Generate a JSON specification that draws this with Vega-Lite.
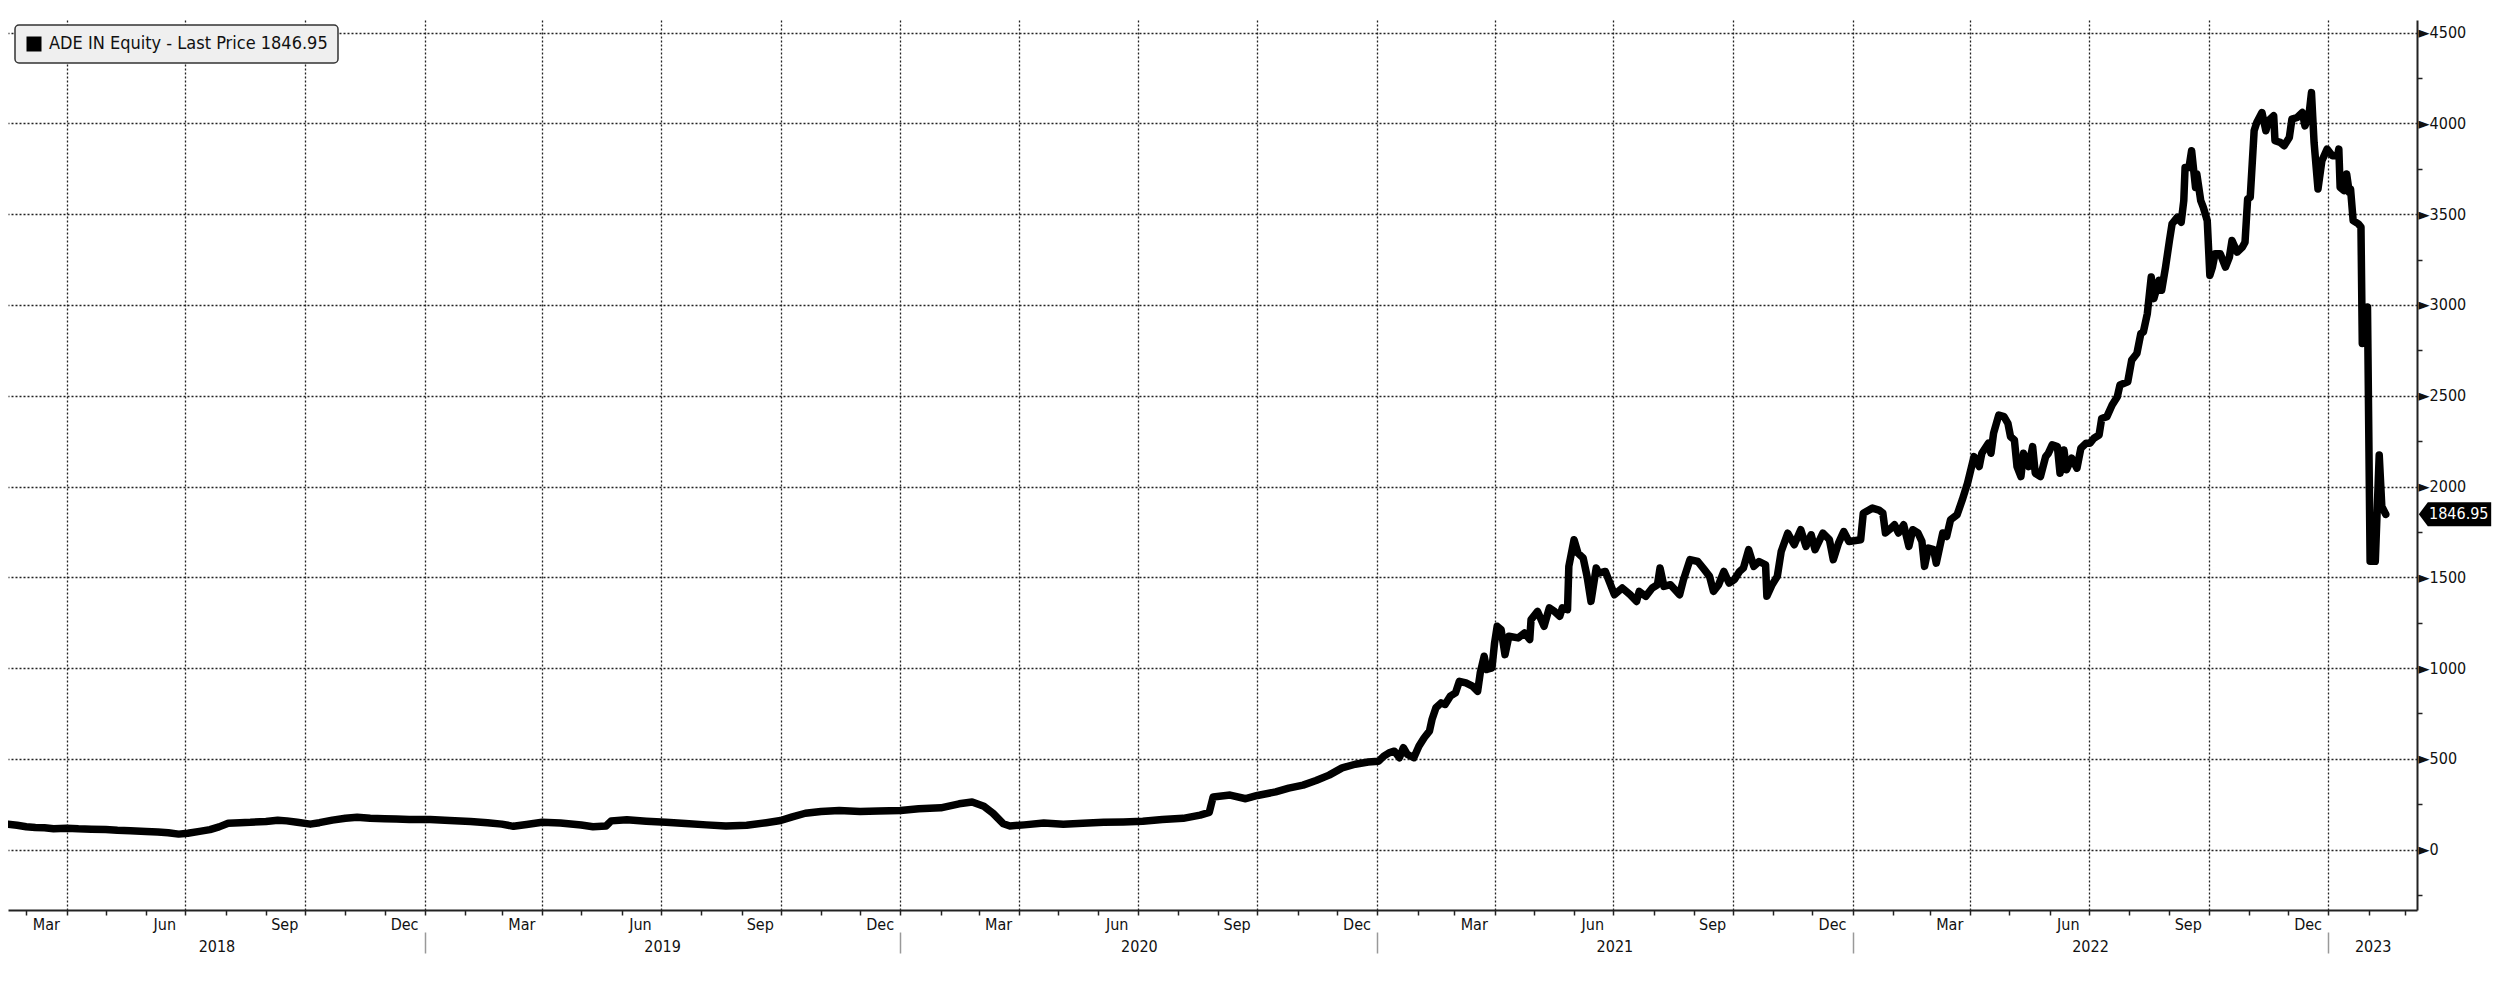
{
  "$schema": "https://vega.github.io/schema/vega-lite/v6.json",
  "width": 2409,
  "height": 890,
  "autosize": {"type": "none"},
  "padding": {"left": 8, "top": 20, "right": 83, "bottom": 72},
  "background": "white",
  "config": {"view": {"stroke": null}, "font": "DejaVu Sans Condensed"},
  "datasets": {
    "price": [
      {"d":"2018-02-15","p":140},{"d":"2018-02-22","p":134},{"d":"2018-03-01","p":126},{"d":"2018-03-08","p":122},{"d":"2018-03-15","p":120},{"d":"2018-03-22","p":115},{"d":"2018-04-01","p":118},{"d":"2018-04-10","p":114},{"d":"2018-04-20","p":112},{"d":"2018-05-01","p":110},{"d":"2018-05-10","p":106},{"d":"2018-05-20","p":104},{"d":"2018-06-01","p":100},{"d":"2018-06-10","p":97},{"d":"2018-06-18","p":93},{"d":"2018-06-26","p":85},{"d":"2018-07-03","p":90},{"d":"2018-07-12","p":100},{"d":"2018-07-20","p":110},{"d":"2018-07-27","p":125},{"d":"2018-08-03","p":145},{"d":"2018-08-12","p":148},{"d":"2018-08-20","p":150},{"d":"2018-09-01","p":155},{"d":"2018-09-10","p":162},{"d":"2018-09-17","p":158},{"d":"2018-09-25","p":150},{"d":"2018-10-05","p":140},{"d":"2018-10-12","p":148},{"d":"2018-10-22","p":162},{"d":"2018-11-01","p":172},{"d":"2018-11-10","p":178},{"d":"2018-11-20","p":172},{"d":"2018-12-01","p":170},{"d":"2018-12-10","p":168},{"d":"2018-12-20","p":166},
      {"d":"2019-01-05","p":165},{"d":"2019-01-20","p":160},{"d":"2019-02-05","p":155},{"d":"2019-02-18","p":148},{"d":"2019-03-01","p":140},{"d":"2019-03-10","p":128},{"d":"2019-03-20","p":138},{"d":"2019-04-01","p":150},{"d":"2019-04-15","p":146},{"d":"2019-05-01","p":135},{"d":"2019-05-10","p":126},{"d":"2019-05-20","p":130},{"d":"2019-05-24","p":158},{"d":"2019-06-05","p":164},{"d":"2019-06-20","p":156},{"d":"2019-07-05","p":150},{"d":"2019-07-20","p":144},{"d":"2019-08-05","p":136},{"d":"2019-08-20","p":130},{"d":"2019-09-05","p":134},{"d":"2019-09-20","p":148},{"d":"2019-10-01","p":160},{"d":"2019-10-10","p":180},{"d":"2019-10-20","p":200},{"d":"2019-11-01","p":210},{"d":"2019-11-15","p":215},{"d":"2019-12-01","p":210},{"d":"2019-12-15","p":212},
      {"d":"2020-01-01","p":215},{"d":"2020-01-15","p":225},{"d":"2020-02-01","p":230},{"d":"2020-02-15","p":252},{"d":"2020-02-25","p":262},{"d":"2020-03-05","p":238},{"d":"2020-03-12","p":200},{"d":"2020-03-20","p":142},{"d":"2020-03-25","p":130},{"d":"2020-04-05","p":136},{"d":"2020-04-20","p":146},{"d":"2020-05-05","p":140},{"d":"2020-05-20","p":145},{"d":"2020-06-05","p":150},{"d":"2020-06-20","p":152},{"d":"2020-07-05","p":156},{"d":"2020-07-20","p":165},{"d":"2020-08-05","p":172},{"d":"2020-08-18","p":190},{"d":"2020-08-25","p":205},{"d":"2020-08-28","p":290},{"d":"2020-09-10","p":300},{"d":"2020-09-22","p":280},{"d":"2020-10-01","p":298},{"d":"2020-10-15","p":318},{"d":"2020-10-25","p":338},{"d":"2020-11-05","p":355},{"d":"2020-11-15","p":380},{"d":"2020-11-25","p":410},{"d":"2020-12-05","p":450},{"d":"2020-12-15","p":470},{"d":"2020-12-25","p":482},
      {"d":"2021-01-02","p":487},{"d":"2021-01-06","p":515},{"d":"2021-01-10","p":533},{"d":"2021-01-14","p":542},{"d":"2021-01-18","p":506},{"d":"2021-01-21","p":561},{"d":"2021-01-24","p":524},{"d":"2021-01-29","p":506},{"d":"2021-02-02","p":570},{"d":"2021-02-06","p":616},{"d":"2021-02-10","p":652},{"d":"2021-02-12","p":717},{"d":"2021-02-15","p":781},{"d":"2021-02-19","p":808},{"d":"2021-02-22","p":799},{"d":"2021-02-26","p":845},{"d":"2021-03-02","p":863},{"d":"2021-03-05","p":927},{"d":"2021-03-10","p":918},{"d":"2021-03-15","p":900},{"d":"2021-03-19","p":872},{"d":"2021-03-21","p":973},{"d":"2021-03-24","p":1065},{"d":"2021-03-26","p":992},{"d":"2021-03-30","p":1001},{"d":"2021-04-01","p":1138},{"d":"2021-04-03","p":1230},{"d":"2021-04-06","p":1212},{"d":"2021-04-09","p":1074},{"d":"2021-04-12","p":1175},{"d":"2021-04-19","p":1166},{"d":"2021-04-24","p":1193},{"d":"2021-04-28","p":1157},{"d":"2021-04-29","p":1267},{"d":"2021-05-04","p":1312},{"d":"2021-05-09","p":1230},{"d":"2021-05-13","p":1331},{"d":"2021-05-17","p":1312},{"d":"2021-05-21","p":1285},{"d":"2021-05-23","p":1331},{"d":"2021-05-27","p":1322},{"d":"2021-05-28","p":1560},{"d":"2021-06-01","p":1707},{"d":"2021-06-04","p":1633},{"d":"2021-06-08","p":1606},{"d":"2021-06-11","p":1505},{"d":"2021-06-14","p":1367},{"d":"2021-06-18","p":1551},{"d":"2021-06-20","p":1523},{"d":"2021-06-25","p":1532},{"d":"2021-07-02","p":1404},{"d":"2021-07-08","p":1441},{"d":"2021-07-14","p":1404},{"d":"2021-07-19","p":1367},{"d":"2021-07-21","p":1422},{"d":"2021-07-26","p":1395},{"d":"2021-07-31","p":1441},{"d":"2021-08-04","p":1459},{"d":"2021-08-06","p":1551},{"d":"2021-08-09","p":1450},{"d":"2021-08-14","p":1459},{"d":"2021-08-21","p":1404},{"d":"2021-08-24","p":1487},{"d":"2021-08-29","p":1597},{"d":"2021-09-04","p":1587},{"d":"2021-09-09","p":1542},{"d":"2021-09-13","p":1505},{"d":"2021-09-16","p":1422},{"d":"2021-09-20","p":1459},{"d":"2021-09-24","p":1532},{"d":"2021-09-28","p":1468},{"d":"2021-10-02","p":1487},{"d":"2021-10-06","p":1532},{"d":"2021-10-09","p":1551},{"d":"2021-10-13","p":1652},{"d":"2021-10-17","p":1560},{"d":"2021-10-21","p":1587},{"d":"2021-10-26","p":1569},{"d":"2021-10-27","p":1395},{"d":"2021-10-31","p":1459},{"d":"2021-11-04","p":1505},{"d":"2021-11-07","p":1642},{"d":"2021-11-12","p":1743},{"d":"2021-11-17","p":1679},{"d":"2021-11-22","p":1762},{"d":"2021-11-26","p":1670},{"d":"2021-11-30","p":1734},{"d":"2021-12-03","p":1652},{"d":"2021-12-09","p":1743},{"d":"2021-12-14","p":1707},{"d":"2021-12-17","p":1597},{"d":"2021-12-21","p":1688},{"d":"2021-12-25","p":1752},{"d":"2021-12-29","p":1697},
      {"d":"2022-01-07","p":1707},{"d":"2022-01-09","p":1853},{"d":"2022-01-16","p":1881},{"d":"2022-01-21","p":1870},{"d":"2022-01-24","p":1854},{"d":"2022-01-26","p":1744},{"d":"2022-01-29","p":1762},{"d":"2022-02-02","p":1789},{"d":"2022-02-05","p":1744},{"d":"2022-02-09","p":1789},{"d":"2022-02-13","p":1670},{"d":"2022-02-16","p":1762},{"d":"2022-02-20","p":1744},{"d":"2022-02-23","p":1698},{"d":"2022-02-25","p":1560},{"d":"2022-02-28","p":1661},{"d":"2022-03-04","p":1652},{"d":"2022-03-06","p":1578},{"d":"2022-03-11","p":1744},{"d":"2022-03-14","p":1725},{"d":"2022-03-17","p":1817},{"d":"2022-03-22","p":1844},{"d":"2022-03-26","p":1927},{"d":"2022-03-30","p":2018},{"d":"2022-04-04","p":2165},{"d":"2022-04-08","p":2110},{"d":"2022-04-10","p":2183},{"d":"2022-04-15","p":2238},{"d":"2022-04-17","p":2183},{"d":"2022-04-19","p":2293},{"d":"2022-04-23","p":2394},{"d":"2022-04-27","p":2385},{"d":"2022-04-30","p":2348},{"d":"2022-05-02","p":2275},{"d":"2022-05-05","p":2256},{"d":"2022-05-07","p":2110},{"d":"2022-05-10","p":2055},{"d":"2022-05-12","p":2183},{"d":"2022-05-16","p":2110},{"d":"2022-05-19","p":2220},{"d":"2022-05-21","p":2073},{"d":"2022-05-25","p":2055},{"d":"2022-05-29","p":2165},{"d":"2022-05-31","p":2183},{"d":"2022-06-03","p":2229},{"d":"2022-06-07","p":2220},{"d":"2022-06-09","p":2073},{"d":"2022-06-12","p":2201},{"d":"2022-06-14","p":2092},{"d":"2022-06-18","p":2156},{"d":"2022-06-22","p":2101},{"d":"2022-06-25","p":2211},{"d":"2022-06-29","p":2238},{"d":"2022-07-02","p":2238},{"d":"2022-07-05","p":2266},{"d":"2022-07-09","p":2284},{"d":"2022-07-11","p":2375},{"d":"2022-07-15","p":2385},{"d":"2022-07-19","p":2449},{"d":"2022-07-23","p":2495},{"d":"2022-07-25","p":2559},{"d":"2022-07-31","p":2577},{"d":"2022-08-03","p":2696},{"d":"2022-08-07","p":2733},{"d":"2022-08-10","p":2842},{"d":"2022-08-12","p":2852},{"d":"2022-08-15","p":2952},{"d":"2022-08-18","p":3154},{"d":"2022-08-20","p":3035},{"d":"2022-08-24","p":3136},{"d":"2022-08-26","p":3081},{"d":"2022-08-29","p":3209},{"d":"2022-09-01","p":3355},{"d":"2022-09-03","p":3447},{"d":"2022-09-07","p":3483},{"d":"2022-09-10","p":3456},{"d":"2022-09-12","p":3575},{"d":"2022-09-13","p":3758},{"d":"2022-09-16","p":3758},{"d":"2022-09-18","p":3850},{"d":"2022-09-21","p":3648},{"d":"2022-09-22","p":3722},{"d":"2022-09-25","p":3575},{"d":"2022-09-27","p":3538},{"d":"2022-09-30","p":3465},{"d":"2022-10-02","p":3163},{"d":"2022-10-04","p":3209},{"d":"2022-10-06","p":3282},{"d":"2022-10-10","p":3282},{"d":"2022-10-14","p":3209},{"d":"2022-10-17","p":3264},{"d":"2022-10-19","p":3355},{"d":"2022-10-23","p":3291},{"d":"2022-10-27","p":3319},{"d":"2022-10-29","p":3346},{"d":"2022-10-31","p":3584},{"d":"2022-11-02","p":3593},{"d":"2022-11-05","p":3960},{"d":"2022-11-07","p":4005},{"d":"2022-11-11","p":4060},{"d":"2022-11-14","p":3960},{"d":"2022-11-16","p":4015},{"d":"2022-11-20","p":4042},{"d":"2022-11-21","p":3905},{"d":"2022-11-25","p":3896},{"d":"2022-11-28","p":3877},{"d":"2022-12-02","p":3923},{"d":"2022-12-04","p":4024},{"d":"2022-12-08","p":4033},{"d":"2022-12-12","p":4060},{"d":"2022-12-14","p":3987},{"d":"2022-12-17","p":4042},{"d":"2022-12-19","p":4170},{"d":"2022-12-21","p":3896},{"d":"2022-12-24","p":3639},{"d":"2022-12-27","p":3795},{"d":"2022-12-31","p":3859},
      {"d":"2023-01-04","p":3822},{"d":"2023-01-08","p":3822},{"d":"2023-01-09","p":3859},{"d":"2023-01-10","p":3648},{"d":"2023-01-13","p":3630},{"d":"2023-01-15","p":3722},{"d":"2023-01-17","p":3621},{"d":"2023-01-18","p":3639},{"d":"2023-01-20","p":3465},{"d":"2023-01-24","p":3447},{"d":"2023-01-26","p":3429},{"d":"2023-01-27","p":2788},{"d":"2023-01-31","p":2989},{"d":"2023-02-02","p":1588},{"d":"2023-02-06","p":1588},{"d":"2023-02-09","p":2174},{"d":"2023-02-11","p":1890},{"d":"2023-02-14","p":1846.95}
    ],
    "last": [{"last": 1846.95}]
  },
  "resolve": {"axis": {"x": "independent", "y": "independent"}},
  "layer": [
    {
      "data": {"name": "price"},
      "mark": {"type": "line", "color": "black", "strokeWidth": 7.5, "strokeJoin": "round", "strokeCap": "round", "clip": true},
      "encoding": {
        "x": {
          "field": "d", "type": "temporal",
          "scale": {"type": "utc", "domain": [{"year": 2018, "month": 2, "date": 15, "utc": true}, {"year": 2023, "month": 3, "date": 10, "utc": true}]},
          "axis": {"orient": "bottom", "title": null, "labels": false, "tickCount": {"interval": "month", "step": 1}, "ticks": true, "tickSize": 5, "tickWidth": 1.5, "tickColor": "#222", "domain": true, "domainColor": "#222", "domainWidth": 2, "grid": true, "gridColor": "#222", "gridDash": [2, 2], "gridWidth": 1.3, "gridOpacity": {"condition": {"test": "utcmonth(datum.value) % 3 == 0", "value": 1}, "value": 0}}
        },
        "y": {
          "field": "p", "type": "quantitative",
          "scale": {"domain": [-333, 4570], "nice": false, "zero": false},
          "axis": {"orient": "right", "title": null, "values": [0, 500, 1000, 1500, 2000, 2500, 3000, 3500, 4000, 4500], "format": "d", "labelExpr": "'►' + datum.label", "ticks": false, "tickSize": 0, "labelPadding": 1, "labelFont": "DejaVu Sans Condensed", "labelFontSize": 16, "labelColor": "#111", "labelBaseline": "middle", "domain": true, "domainColor": "#222", "domainWidth": 2, "grid": true, "gridColor": "#222", "gridDash": [2, 2], "gridWidth": 1.3}
        },
        "color": {
          "datum": "ADE IN Equity - Last Price 1846.95", "type": "nominal",
          "scale": {"range": ["black"]},
          "legend": {"title": null, "orient": "none", "legendX": 7, "legendY": 5, "symbolType": "square", "symbolSize": 225, "symbolFillColor": "black", "symbolStrokeColor": "black", "labelFont": "DejaVu Sans Condensed", "labelFontSize": 18, "labelColor": "#111", "labelOffset": 6, "labelLimit": 1000, "fillColor": "#efefef", "strokeColor": "#333", "cornerRadius": 4, "padding": 10,
            "encode": {"symbols": {"update": {"fill": {"value": "black"}, "stroke": {"value": "black"}, "strokeWidth": {"value": 0}, "shape": {"value": "square"}, "opacity": {"value": 1}}}, "legend": {"update": {"strokeWidth": {"value": 1.5}}}}}
        }
      }
    },
    {
      "data": {"name": "price"},
      "mark": {"type": "line", "opacity": 0},
      "encoding": {
        "x": {
          "field": "d", "type": "temporal",
          "axis": {"orient": "bottom", "title": null,
            "values": [
              {"year": 2018, "month": 3, "date": 16, "utc": true}, {"year": 2018, "month": 6, "date": 15, "utc": true}, {"year": 2018, "month": 9, "date": 15, "utc": true}, {"year": 2018, "month": 12, "date": 16, "utc": true},
              {"year": 2019, "month": 3, "date": 16, "utc": true}, {"year": 2019, "month": 6, "date": 15, "utc": true}, {"year": 2019, "month": 9, "date": 15, "utc": true}, {"year": 2019, "month": 12, "date": 16, "utc": true},
              {"year": 2020, "month": 3, "date": 16, "utc": true}, {"year": 2020, "month": 6, "date": 15, "utc": true}, {"year": 2020, "month": 9, "date": 15, "utc": true}, {"year": 2020, "month": 12, "date": 16, "utc": true},
              {"year": 2021, "month": 3, "date": 16, "utc": true}, {"year": 2021, "month": 6, "date": 15, "utc": true}, {"year": 2021, "month": 9, "date": 15, "utc": true}, {"year": 2021, "month": 12, "date": 16, "utc": true},
              {"year": 2022, "month": 3, "date": 16, "utc": true}, {"year": 2022, "month": 6, "date": 15, "utc": true}, {"year": 2022, "month": 9, "date": 15, "utc": true}, {"year": 2022, "month": 12, "date": 16, "utc": true}
            ],
            "labelExpr": "utcFormat(datum.value, '%b')", "ticks": false, "tickSize": 0, "domain": false, "grid": false, "labelPadding": 19, "labelBaseline": "alphabetic", "labelFont": "DejaVu Sans Condensed", "labelFontSize": 16, "labelColor": "#111", "labelOverlap": false, "labelFlush": false, "labelBound": false}
        },
        "y": {
          "field": "p", "type": "quantitative",
          "axis": {"orient": "right", "title": null, "values": [-250, 250, 750, 1250, 1750, 2250, 2750, 3250, 3750, 4250], "labels": false, "ticks": true, "tickSize": 5, "tickWidth": 1.5, "tickColor": "#222", "domain": false, "grid": false}
        }
      }
    },
    {
      "data": {"name": "price"},
      "mark": {"type": "line", "opacity": 0},
      "encoding": {
        "x": {
          "field": "d", "type": "temporal",
          "axis": {"orient": "bottom", "title": null,
            "values": [
              {"year": 2018, "month": 7, "date": 25, "utc": true}, {"year": 2019, "month": 7, "date": 2, "utc": true}, {"year": 2020, "month": 7, "date": 2, "utc": true}, {"year": 2021, "month": 7, "date": 2, "utc": true}, {"year": 2022, "month": 7, "date": 2, "utc": true}, {"year": 2023, "month": 2, "date": 4, "utc": true}
            ],
            "labelExpr": "utcFormat(datum.value, '%Y')", "ticks": false, "tickSize": 0, "domain": false, "grid": false, "labelPadding": 41, "labelBaseline": "alphabetic", "labelFont": "DejaVu Sans Condensed", "labelFontSize": 16, "labelColor": "#111", "labelOverlap": false, "labelFlush": false, "labelBound": false}
        },
        "y": {"field": "p", "type": "quantitative", "axis": null}
      }
    },
    {
      "data": {"name": "price"},
      "mark": {"type": "line", "opacity": 0},
      "encoding": {
        "x": {
          "field": "d", "type": "temporal",
          "axis": {"orient": "bottom", "title": null, "offset": 22,
            "values": [
              {"year": 2019, "month": 1, "date": 1, "utc": true}, {"year": 2020, "month": 1, "date": 1, "utc": true}, {"year": 2021, "month": 1, "date": 1, "utc": true}, {"year": 2022, "month": 1, "date": 1, "utc": true}, {"year": 2023, "month": 1, "date": 1, "utc": true}
            ],
            "labels": false, "ticks": true, "tickSize": 21, "tickWidth": 1.5, "tickColor": "#999", "domain": false, "grid": false}
        },
        "y": {"field": "p", "type": "quantitative", "axis": null}
      }
    },
    {
      "data": {"name": "last"},
      "mark": {"type": "point", "shape": "M 0.05 0 L 0.3 -0.333 L 2.06 -0.333 L 2.06 0.333 L 0.3 0.333 Z", "filled": true, "fill": "black", "size": 5184, "opacity": 1, "strokeWidth": 0},
      "encoding": {
        "x": {"value": "width"},
        "y": {"field": "last", "type": "quantitative", "axis": null}
      }
    },
    {
      "data": {"name": "last"},
      "mark": {"type": "text", "align": "left", "baseline": "middle", "dx": 12, "color": "white", "font": "DejaVu Sans Condensed", "fontSize": 16},
      "encoding": {
        "x": {"value": "width"},
        "y": {"field": "last", "type": "quantitative", "axis": null},
        "text": {"field": "last", "type": "quantitative", "format": ".2f"}
      }
    }
  ]
}
